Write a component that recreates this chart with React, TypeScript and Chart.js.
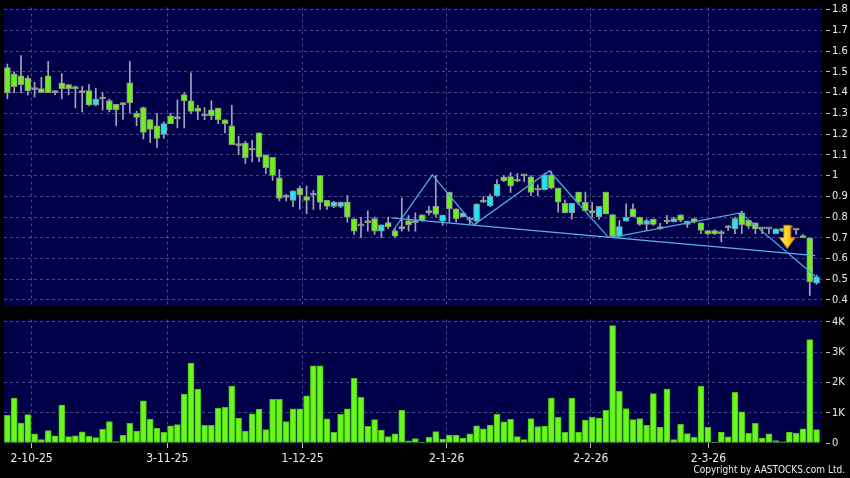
import React, { useEffect, useRef } from 'react';
import { Chart, registerables } from 'chart.js';

Chart.register(...registerables);

// ---------- data ----------
const opens = [
  1.52, 1.49, 1.481, 1.47, 1.414, 1.419, 1.481, 1.40, 1.446, 1.438,
  1.419, 1.40, 1.409, 1.34, 1.369, 1.361, 1.343, 1.342, 1.447, 1.30,
  1.327, 1.27, 1.24, 1.198, 1.288, 1.274, 1.39, 1.36, 1.325, 1.288,
  1.317, 1.325, 1.269, 1.24, 1.144, 1.157, 1.122, 1.206, 1.099, 1.088,
  0.989, 0.895, 0.88, 0.938, 0.899, 0.905, 1.0, 0.88, 0.851, 0.851,
  0.872, 0.791, 0.757, 0.773, 0.792, 0.732, 0.773, 0.733, 0.743, 0.783,
  0.773, 0.81, 0.82, 0.851, 0.78, 0.919, 0.839, 0.802, 0.785, 0.78,
  0.882, 0.855, 0.903, 0.993, 0.995, 0.983, 0.998, 0.994, 0.93, 0.93,
  1.003, 0.939, 0.866, 0.82, 0.92, 0.871, 0.831, 0.802, 0.92, 0.812,
  0.707, 0.78, 0.839, 0.799, 0.764, 0.79, 0.743, 0.784, 0.776, 0.811,
  0.764, 0.792, 0.772, 0.735, 0.735, 0.72, 0.748, 0.743, 0.82, 0.784,
  0.772, 0.743, 0.743, 0.72, 0.73, 0.748, 0.737, 0.711, 0.70, 0.481,
];
const highs = [
  1.537, 1.50, 1.578, 1.48, 1.449, 1.473, 1.55, 1.41, 1.492, 1.44,
  1.431, 1.43, 1.439, 1.42, 1.40, 1.369, 1.343, 1.351, 1.55, 1.31,
  1.33, 1.27, 1.30, 1.259, 1.30, 1.365, 1.40, 1.495, 1.338, 1.328,
  1.36, 1.325, 1.27, 1.338, 1.189, 1.165, 1.17, 1.206, 1.10, 1.088,
  1.029, 0.909, 0.926, 0.949, 0.949, 0.928, 1.0, 0.88, 0.875, 0.872,
  0.903, 0.791, 0.799, 0.83, 0.80, 0.762, 0.80, 0.743, 0.891, 0.807,
  0.82, 0.81, 0.851, 1.0, 0.809, 0.92, 0.839, 0.82, 0.80, 0.865,
  0.898, 0.91, 0.98, 1.0, 1.014, 1.01, 1.005, 1.0, 0.955, 1.01,
  1.022, 0.939, 0.882, 0.866, 0.92, 0.92, 0.871, 0.852, 0.92, 0.812,
  0.783, 0.863, 0.863, 0.80, 0.79, 0.79, 0.77, 0.808, 0.80, 0.811,
  0.78, 0.792, 0.772, 0.735, 0.74, 0.735, 0.76, 0.80, 0.828, 0.784,
  0.772, 0.745, 0.745, 0.743, 0.745, 0.752, 0.74, 0.715, 0.70, 0.52,
];
const lows = [
  1.371, 1.40, 1.398, 1.387, 1.379, 1.40, 1.40, 1.39, 1.369, 1.388,
  1.326, 1.307, 1.335, 1.335, 1.315, 1.307, 1.24, 1.27, 1.30, 1.24,
  1.177, 1.158, 1.136, 1.179, 1.25, 1.229, 1.23, 1.298, 1.269, 1.269,
  1.269, 1.25, 1.205, 1.149, 1.10, 1.058, 1.067, 1.067, 1.008, 0.976,
  0.877, 0.877, 0.85, 0.838, 0.816, 0.837, 0.837, 0.837, 0.845, 0.845,
  0.775, 0.716, 0.70, 0.732, 0.716, 0.70, 0.743, 0.70, 0.732, 0.732,
  0.732, 0.78, 0.81, 0.80, 0.76, 0.778, 0.775, 0.80, 0.767, 0.767,
  0.87, 0.85, 0.90, 0.97, 0.919, 0.97, 0.97, 0.903, 0.903, 0.93,
  0.935, 0.823, 0.82, 0.79, 0.86, 0.831, 0.80, 0.79, 0.815, 0.703,
  0.70, 0.78, 0.80, 0.76, 0.735, 0.76, 0.74, 0.768, 0.776, 0.776,
  0.75, 0.772, 0.72, 0.715, 0.715, 0.68, 0.735, 0.72, 0.72, 0.745,
  0.72, 0.72, 0.72, 0.72, 0.73, 0.74, 0.716, 0.70, 0.422, 0.476,
];
const closes = [
  1.398, 1.428, 1.438, 1.409, 1.414, 1.40, 1.40, 1.40, 1.419, 1.419,
  1.419, 1.41, 1.34, 1.369, 1.369, 1.318, 1.318, 1.351, 1.35, 1.28,
  1.208, 1.222, 1.179, 1.251, 1.25, 1.274, 1.36, 1.309, 1.309, 1.288,
  1.288, 1.269, 1.25, 1.149, 1.144, 1.086, 1.122, 1.088, 1.038, 1.0,
  0.89, 0.895, 0.926, 0.907, 0.88, 0.905, 0.87, 0.851, 0.872, 0.872,
  0.799, 0.732, 0.757, 0.773, 0.732, 0.762, 0.752, 0.708, 0.754, 0.762,
  0.783, 0.783, 0.831, 0.812, 0.809, 0.839, 0.791, 0.82, 0.785, 0.862,
  0.872, 0.90, 0.959, 0.975, 0.95, 0.973, 0.998, 0.919, 0.93, 1.003,
  0.939, 0.871, 0.82, 0.866, 0.871, 0.831, 0.82, 0.852, 0.815, 0.707,
  0.754, 0.799, 0.802, 0.764, 0.783, 0.764, 0.754, 0.776, 0.792, 0.784,
  0.78, 0.776, 0.735, 0.72, 0.72, 0.72, 0.748, 0.792, 0.763, 0.756,
  0.743, 0.743, 0.743, 0.743, 0.745, 0.748, 0.737, 0.70, 0.487, 0.512,
];
const volumes = [
  910, 1480, 660, 940, 300, 110, 410, 240, 1250, 210,
  240, 370, 220, 180, 450, 710, 50, 250, 650, 390,
  1390, 790, 490, 350, 570, 610, 1620, 2640, 1780, 580,
  580, 1150, 1180, 1880, 820, 390, 960, 1120, 440, 1440,
  1440, 710, 1130, 1130, 1560, 2550, 2550, 800, 350, 950,
  1130, 2140, 1510, 550, 770, 430, 210, 300, 1080, 70,
  150, 10, 190, 380, 130, 260, 260, 160, 300, 570,
  470, 590, 950, 700, 780, 210, 110, 810, 540, 560,
  1480, 850, 350, 1480, 360, 760, 850, 820, 1080, 3880,
  1710, 1140, 770, 810, 580, 1630, 530, 1780, 110, 620,
  310, 190, 1870, 520, 20, 360, 200, 1670, 1030, 320,
  650, 160, 300, 80, 40, 360, 330, 470, 3420, 440,
];

const dateTickPos = [3.57, 23.5, 43.4, 64.6, 85.8, 103.1];
const dateTickLabels = ['2-10-25', '3-11-25', '1-12-25', '2-1-26', '2-2-26', '2-3-26'];
const priceTicks = [0.4, 0.5, 0.6, 0.7, 0.8, 0.9, 1.0, 1.1, 1.2, 1.3, 1.4, 1.5, 1.6, 1.7, 1.8];
const volumeTicks = [0, 1000, 2000, 3000, 4000];

const zigzagX = [56.7, 62.5, 68.6, 79.7, 88.4, 90.5, 107.8, 118.8];
const zigzagY = [0.733, 1.003, 0.762, 1.022, 0.702, 0.711, 0.82, 0.515];
const supportX = [56.5, 118.8];
const supportY = [0.796, 0.614];

const arrowX = 114.7;
const arrowTop = 0.76;
const arrowTip = 0.648;

const copyright = 'Copyright by AASTOCKS.com Ltd.';

// ---------- styles ----------
const FONT = "'DejaVu Sans Condensed', 'DejaVu Sans', sans-serif";
const NAVY = '#000048';
const GRID = 'rgba(120,120,180,0.6)';
const TEXT = '#ececec';

const bgPlugin = {
  id: 'bg',
  beforeDraw(chart: any) {
    const { ctx, chartArea: a, width, height } = chart;
    ctx.save();
    ctx.fillStyle = '#000000';
    ctx.fillRect(0, 0, width, height);
    ctx.fillStyle = NAVY;
    ctx.fillRect(a.left, a.top, a.right - a.left, a.bottom - a.top);
    ctx.restore();
  },
};

const arrowPlugin = {
  id: 'arrow',
  afterDatasetsDraw(chart: any) {
    const { ctx, scales } = chart;
    const cx = scales.x.getPixelForValue(arrowX);
    const top = scales.y.getPixelForValue(arrowTop);
    const tip = scales.y.getPixelForValue(arrowTip);
    const h = tip - top;
    const headH = h * 0.47;
    const shaftW = 7;
    const headW = 16;
    ctx.save();
    const g = ctx.createLinearGradient(cx - headW / 2, 0, cx + headW / 2, 0);
    g.addColorStop(0, '#fff27a');
    g.addColorStop(0.5, '#ffd21f');
    g.addColorStop(1, '#e0a000');
    ctx.beginPath();
    ctx.moveTo(cx - shaftW / 2, top);
    ctx.lineTo(cx + shaftW / 2, top);
    ctx.lineTo(cx + shaftW / 2, tip - headH);
    ctx.lineTo(cx + headW / 2, tip - headH);
    ctx.lineTo(cx, tip);
    ctx.lineTo(cx - headW / 2, tip - headH);
    ctx.lineTo(cx - shaftW / 2, tip - headH);
    ctx.closePath();
    ctx.fillStyle = g;
    ctx.fill();
    ctx.strokeStyle = '#b07800';
    ctx.lineWidth = 1;
    ctx.stroke();
    ctx.restore();
  },
};

const copyrightPlugin = {
  id: 'copyright',
  afterDraw(chart: any) {
    const { ctx, width, height } = chart;
    ctx.save();
    ctx.font = `10px ${FONT}`;
    ctx.fillStyle = TEXT;
    ctx.textAlign = 'right';
    ctx.textBaseline = 'middle';
    ctx.fillText(copyright, width - 5, height - 8);
    ctx.restore();
  },
};

const xRange = { min: -0.5, max: 119.8 };

export default function App() {
  const priceRef = useRef<HTMLCanvasElement>(null);
  const volRef = useRef<HTMLCanvasElement>(null);

  useEffect(() => {
    document.body.style.margin = '0';
    document.body.style.background = '#000';

    const bodies = opens.map((o, i) => ({ x: i, y: [o, closes[i]] }));
    const wicks = lows.map((l, i) => ({ x: i, y: [l, highs[i]] }));
    const bodyFill = opens.map((o, i) =>
      closes[i] > o ? '#22e4f2' : closes[i] < o ? '#6cf01e' : '#a0a4a0'
    );

    const priceChart = new Chart(priceRef.current as HTMLCanvasElement, {
      type: 'bar',
      data: {
        datasets: [
          {
            type: 'line',
            data: zigzagX.map((x, i) => ({ x, y: zigzagY[i] })),
            borderColor: '#4aa6e4',
            borderWidth: 1.3,
            pointRadius: 0,
            order: 0,
          } as any,
          {
            type: 'line',
            data: supportX.map((x, i) => ({ x, y: supportY[i] })),
            borderColor: '#5ab2ea',
            borderWidth: 1.3,
            pointRadius: 0,
            order: 0,
          } as any,
          {
            type: 'bar',
            data: bodies,
            backgroundColor: bodyFill,
            borderColor: '#8c9488',
            borderWidth: 1,
            borderSkipped: false,
            barThickness: 6,
            minBarLength: 2,
            grouped: false,
            order: 1,
          } as any,
          {
            type: 'bar',
            data: wicks,
            backgroundColor: '#a4a4b8',
            borderWidth: 0,
            barThickness: 1,
            grouped: false,
            order: 2,
          } as any,
        ],
      },
      options: {
        responsive: false,
        maintainAspectRatio: false,
        animation: false,
        events: [],
        layout: { padding: { left: 4, top: 6, right: 0, bottom: 14 } },
        plugins: { legend: { display: false }, tooltip: { enabled: false } },
        scales: {
          x: {
            type: 'linear',
            ...xRange,
            offset: false,
            grid: { color: GRID, drawTicks: false, offset: false, lineWidth: 1 },
            border: { display: false, dash: [3, 3] },
            ticks: { display: false },
            afterBuildTicks: (s: any) => {
              s.ticks = dateTickPos.map((v) => ({ value: v }));
            },
            afterFit: (s: any) => {
              s.height = 0;
            },
          },
          y: {
            position: 'right',
            min: 0.371,
            max: 1.81,
            grid: {
              color: GRID,
              lineWidth: 1,
              tickLength: 8,
              tickColor: '#b8b8c0',
              tickBorderDash: [0, 4, 4, 40],
            },
            border: { display: false, dash: [3, 3] },
            ticks: {
              color: TEXT,
              padding: 2,
              font: { family: FONT, size: 11, lineHeight: 1 },
              callback: (v: any) => String(Math.round(v * 10) / 10),
            },
            afterBuildTicks: (s: any) => {
              s.ticks = priceTicks.map((v) => ({ value: v }));
            },
            afterFit: (s: any) => {
              s.width = 28;
            },
          },
        },
      } as any,
      plugins: [bgPlugin, arrowPlugin],
    });

    const volChart = new Chart(volRef.current as HTMLCanvasElement, {
      type: 'bar',
      data: {
        datasets: [
          {
            data: volumes.map((v, i) => ({ x: i, y: v })),
            backgroundColor: '#68f81c',
            borderColor: '#4cbc14',
            borderWidth: 1,
            borderSkipped: false,
            barThickness: 6,
            grouped: false,
          } as any,
        ],
      },
      options: {
        responsive: false,
        maintainAspectRatio: false,
        animation: false,
        events: [],
        layout: { padding: { left: 4, top: 7, right: 0, bottom: 0 } },
        plugins: { legend: { display: false }, tooltip: { enabled: false } },
        scales: {
          x: {
            type: 'linear',
            ...xRange,
            offset: false,
            grid: {
              color: GRID,
              offset: false,
              lineWidth: 1,
              drawTicks: true,
              tickLength: 5,
              tickColor: '#b8b8c0',
              tickBorderDash: [],
            },
            border: { display: false, dash: [3, 3] },
            ticks: {
              color: TEXT,
              autoSkip: false,
              maxRotation: 0,
              padding: 4,
              font: { family: FONT, size: 12 },
              callback: (_v: any, i: number) => dateTickLabels[i],
            },
            afterBuildTicks: (s: any) => {
              s.ticks = dateTickPos.map((v) => ({ value: v }));
            },
            afterFit: (s: any) => {
              s.height = 35;
            },
          },
          y: {
            position: 'right',
            min: 0,
            max: 4080,
            grid: {
              color: (c: any) => (c.tick && c.tick.value === 0 ? 'rgba(0,0,0,0)' : GRID),
              lineWidth: 1,
              tickLength: 8,
              tickColor: '#b8b8c0',
              tickBorderDash: [0, 4, 4, 40],
            },
            border: { display: false, dash: [3, 3] },
            ticks: {
              color: TEXT,
              padding: 2,
              font: { family: FONT, size: 11, lineHeight: 1 },
              callback: (v: any) => (v === 0 ? '0' : `${Math.round(v / 1000)}K`),
            },
            afterBuildTicks: (s: any) => {
              s.ticks = volumeTicks.map((v) => ({ value: v }));
            },
            afterFit: (s: any) => {
              s.width = 28;
            },
          },
        },
      } as any,
      plugins: [bgPlugin, copyrightPlugin],
    });

    return () => {
      priceChart.destroy();
      volChart.destroy();
    };
  }, []);

  return (
    <div style={{ position: 'absolute', left: 0, top: 0, width: 850, height: 478, background: '#000', overflow: 'hidden' }}>
      <canvas ref={priceRef} width={850} height={320} style={{ position: 'absolute', left: 0, top: 0, width: 850, height: 320 }} />
      <canvas ref={volRef} width={850} height={166} style={{ position: 'absolute', left: 0, top: 312, width: 850, height: 166 }} />
    </div>
  );
}
